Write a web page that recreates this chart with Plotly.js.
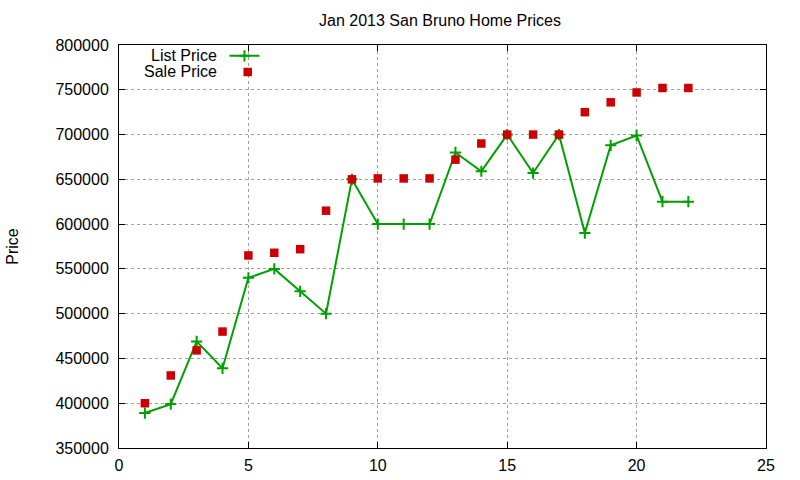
<!DOCTYPE html>
<html>
<head>
<meta charset="utf-8">
<script src="https://cdn.plot.ly/plotly-3.0.1.min.js"></script>
<style>
  body { margin: 0; background: #fff; }
  #chart { width: 800px; height: 480px; }
</style>
</head>
<body>
<div id="chart"></div>
<script>
// listing number (1..22)
var homes = [1, 2, 3, 4, 5, 6, 7, 8, 9, 10, 11, 12, 13, 14, 15, 16, 17, 18, 19, 20, 21, 22];

var listPrice = [389000, 399000, 469000, 439000, 540000, 550000, 525000, 500000, 650000, 600000, 600000,
                 600000, 680000, 659000, 700000, 657000, 700000, 590000, 688000, 699000, 625000, 625000];

var salePrice = [400000, 431000, 459000, 480000, 565000, 568000, 572000, 615000, 650000, 651000, 651000,
                 651000, 672000, 690000, 700000, 700000, 700000, 725000, 736000, 747000, 752000, 752000];

var seriesNames = ['List Price', 'Sale Price'];

var green = '#00a000';
var red = '#cc0000';
var font = 'Liberation Sans, Arial, sans-serif';

var listStyle = {
  mode: 'lines+markers',
  line: { color: green, width: 2 },
  marker: { symbol: 'cross-thin', size: 8, line: { color: green, width: 2 } }
};
var saleStyle = {
  mode: 'markers',
  marker: { symbol: 'square', size: 8.5, color: red }
};

var traces = [
  Object.assign({ x: homes, y: listPrice, type: 'scatter', name: seriesNames[0], showlegend: false }, listStyle),
  Object.assign({ x: homes, y: salePrice, type: 'scatter', name: seriesNames[1], showlegend: false }, saleStyle),
  // legend keys only (gnuplot puts the label left of the sample)
  Object.assign({ x: [null], y: [null], type: 'scatter', name: '', showlegend: true, legend: 'legend', hoverinfo: 'skip' }, listStyle),
  Object.assign({ x: [null], y: [null], type: 'scatter', name: '', showlegend: true, legend: 'legend2', hoverinfo: 'skip' }, saleStyle)
];

var axisCommon = {
  showline: true, linecolor: '#000', linewidth: 1, mirror: 'ticks',
  ticks: 'inside', ticklen: 6, tickcolor: '#000', tickwidth: 1,
  showgrid: true, gridcolor: '#a0a0a0', griddash: 'dot', gridwidth: 1,
  zeroline: false,
  tickfont: { family: font, size: 16, color: '#000' }
};

var layout = {
  width: 800, height: 480,
  margin: { l: 119, r: 34, t: 45, b: 32 },
  paper_bgcolor: '#fff', plot_bgcolor: '#fff',
  font: { family: font, size: 16, color: '#000' },
  title: { text: 'Jan 2013 San Bruno Home Prices', x: 0.55, xanchor: 'center', y: 0.958, yanchor: 'middle',
           font: { family: font, size: 16, color: '#000' } },
  xaxis: Object.assign({}, axisCommon, { range: [0, 25], dtick: 5, tick0: 0, ticklabelstandoff: 3 }),
  yaxis: Object.assign({}, axisCommon, { range: [350000, 800000], dtick: 50000, tick0: 350000,
           tickformat: 'd', ticklabelstandoff: 6,
           title: { text: 'Price', standoff: 32, font: { family: font, size: 16, color: '#000' } } }),
  legend: { x: 0.163, y: 1.015, xanchor: 'left', yanchor: 'top', bgcolor: 'rgba(0,0,0,0)',
            font: { family: font, size: 16 }, itemwidth: 30 },
  legend2: { x: 0.168, y: 0.975, xanchor: 'left', yanchor: 'top', bgcolor: 'rgba(0,0,0,0)',
             font: { family: font, size: 16 }, itemwidth: 30 },
  annotations: [
    { text: seriesNames[0], xref: 'paper', yref: 'paper', x: 0.155, y: 0.975, xanchor: 'right', yanchor: 'middle',
      showarrow: false, font: { family: font, size: 16, color: '#000' } },
    { text: seriesNames[1], xref: 'paper', yref: 'paper', x: 0.155, y: 0.935, xanchor: 'right', yanchor: 'middle',
      showarrow: false, font: { family: font, size: 16, color: '#000' } }
  ],
  showlegend: true
};

Plotly.newPlot('chart', traces, layout, { displayModeBar: false, staticPlot: true });
</script>
</body>
</html>
